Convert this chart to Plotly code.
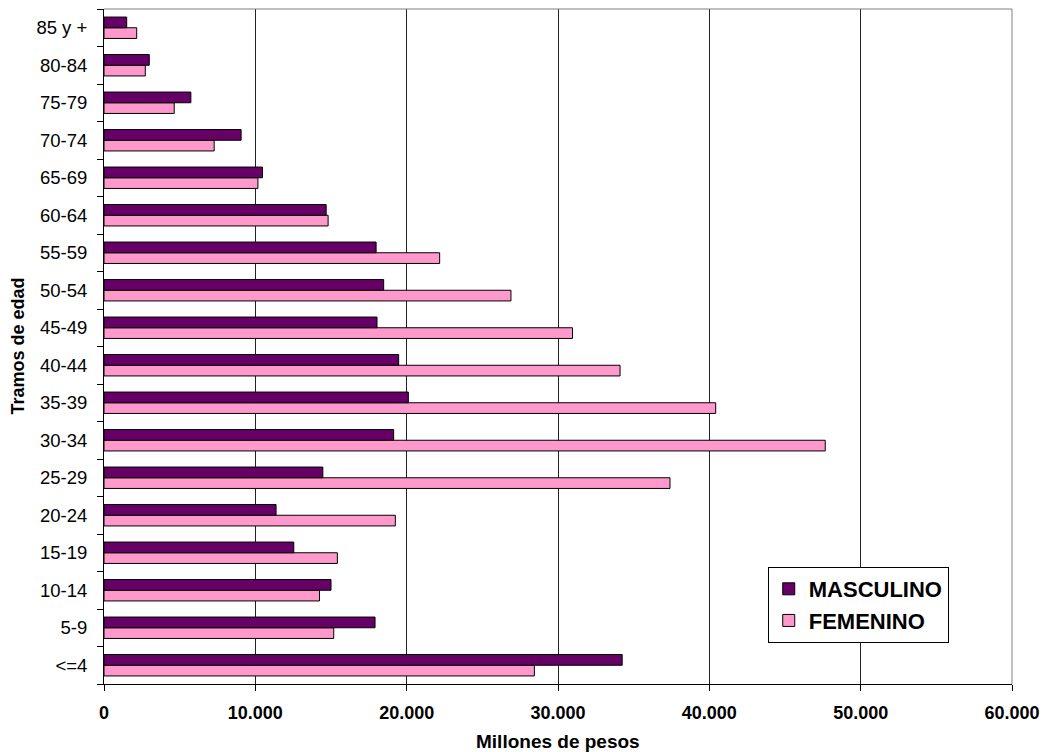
import plotly.graph_objects as go

categories = ["<=4", "5-9", "10-14", "15-19", "20-24", "25-29", "30-34", "35-39", "40-44",
              "45-49", "50-54", "55-59", "60-64", "65-69", "70-74", "75-79", "80-84", "85 y +"]
masculino = [34240, 17910, 15000, 12540, 11370, 14460, 19140, 20110, 19470,
             18040, 18480, 17980, 14680, 10470, 9060, 5740, 2990, 1500]
femenino = [28440, 15180, 14240, 15420, 19250, 37400, 47660, 40420, 34100,
            30960, 26890, 22180, 14810, 10170, 7280, 4640, 2730, 2160]

FONT = "Liberation Sans, Arial, sans-serif"

fig = go.Figure()
# femenino first so it sits below masculino inside each group
fig.add_trace(go.Bar(
    y=categories, x=femenino, name="FEMENINO", orientation="h",
    marker=dict(color="#FF99CC", line=dict(color="#000000", width=1)),
))
fig.add_trace(go.Bar(
    y=categories, x=masculino, name="MASCULINO", orientation="h",
    marker=dict(color="#660066", line=dict(color="#000000", width=1)),
))

fig.update_layout(
    width=1043, height=752, autosize=False,
    margin=dict(l=104, r=31, t=9, b=68),
    plot_bgcolor="white", paper_bgcolor="white",
    barmode="group", bargap=0.43, bargroupgap=0,
    separators=",.",
    font=dict(family=FONT, color="#000000"),
    legend=dict(
        x=0.731, y=0.1733, xanchor="left", yanchor="top",
        traceorder="reversed",
        bgcolor="white", bordercolor="#000000", borderwidth=1,
        font=dict(family=FONT, size=22, weight="bold"),
        itemwidth=30,
    ),
    showlegend=True,
)

fig.update_xaxes(
    range=[0, 60000], dtick=10000, tickformat=",d",
    showgrid=True, gridcolor="#222222", gridwidth=1,
    showline=True, linecolor="#000000", linewidth=1,
    ticks="outside", ticklen=6, tickcolor="#000000",
    tickfont=dict(family=FONT, size=18, weight="bold"),
    ticklabelstandoff=6, ticklabeloverflow="allow",
    zeroline=False, automargin=False,
)
fig.update_yaxes(
    showgrid=False,
    showline=True, linecolor="#000000", linewidth=1,
    ticks="outside", ticklen=6, tickcolor="#000000", tickson="boundaries",
    tickfont=dict(family=FONT, size=18.5),
    ticklabelstandoff=12, automargin=False,
)

# gray frame on top and right of the plot area
fig.add_shape(type="line", xref="paper", yref="paper", x0=0, x1=1, y0=1, y1=1,
              line=dict(color="#808080", width=1))
fig.add_shape(type="line", xref="paper", yref="paper", x0=1, x1=1, y0=0, y1=1,
              line=dict(color="#808080", width=1))

fig.add_annotation(text="Millones de pesos", xref="paper", yref="paper",
                   x=0.5, y=-0.0845, xanchor="center", yanchor="middle", showarrow=False,
                   font=dict(family=FONT, size=19, weight="bold"))
fig.add_annotation(text="Tramos de edad", xref="paper", yref="paper",
                   x=-0.0958, y=0.5, xanchor="center", yanchor="middle", showarrow=False,
                   textangle=-90,
                   font=dict(family=FONT, size=18, weight="bold"))

# drop the default body margin so the figure fills the window exactly
fig.write_html(
    "out.html",
    config={"displayModeBar": False},
    post_script="document.body.style.margin='0px'; document.body.style.overflow='hidden';",
)
